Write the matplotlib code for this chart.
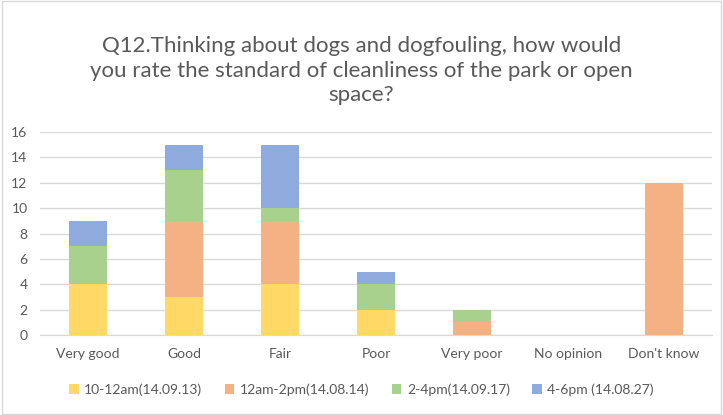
import matplotlib.pyplot as plt
import numpy as np

plt.rcParams['font.family'] = ['Lato', 'DejaVu Sans']

categories = ['Very good', 'Good', 'Fair', 'Poor', 'Very poor', 'No opinion', "Don't know"]
series_names = ['10-12am(14.09.13)', '12am-2pm(14.08.14)', '2-4pm(14.09.17)', '4-6pm (14.08.27)']
s1 = [4, 3, 4, 2, 0, 0, 0]
s2 = [0, 6, 5, 0, 1, 0, 12]
s3 = [3, 4, 1, 2, 1, 0, 0]
s4 = [2, 2, 5, 1, 0, 0, 0]
colors = ['#FFD966', '#F4B183', '#A9D18E', '#8FAADC']

fig = plt.figure(figsize=(7.23, 4.15), dpi=100)
ax = fig.add_axes([40 / 723, 80 / 415, 672 / 723, 203 / 415])

x = np.arange(len(categories))
bottom = np.zeros(len(categories))
for vals, name, c in zip([s1, s2, s3, s4], series_names, colors):
    ax.bar(x, vals, 0.4, bottom=bottom, color=c, label=name, zorder=3)
    bottom += np.array(vals)

ax.set_xlim(-0.5, len(categories) - 0.5)
ax.set_ylim(0, 16)
ax.set_yticks(range(0, 17, 2))
ax.set_xticks(x)
ax.set_xticklabels(categories)
ax.grid(axis='y', color='#D9D9D9', linewidth=1, zorder=0)
for s in ['top', 'right', 'left']:
    ax.spines[s].set_visible(False)
ax.spines['bottom'].set_color('#D9D9D9')
ax.tick_params(length=0, labelsize=10, colors='#595959', pad=9)

fig.text(0.5, 0.83,
         'Q12.Thinking about dogs and dogfouling, how would\n'
         'you rate the standard of cleanliness of the park or open\nspace?',
         ha='center', va='center', fontsize=16, color='#595959', linespacing=1.3)

fig.legend(loc='center', bbox_to_anchor=(0.5, 0.062), ncol=4, frameon=False,
           fontsize=10, handlelength=0.7, handleheight=0.7, columnspacing=1.6,
           handletextpad=0.4, labelcolor='#595959')

fig.patches.append(plt.Rectangle((0.003, 0.003), 0.994, 0.994, transform=fig.transFigure,
                                 fill=False, edgecolor='#D9D9D9', linewidth=1))

fig.savefig('out.png', dpi=100)
